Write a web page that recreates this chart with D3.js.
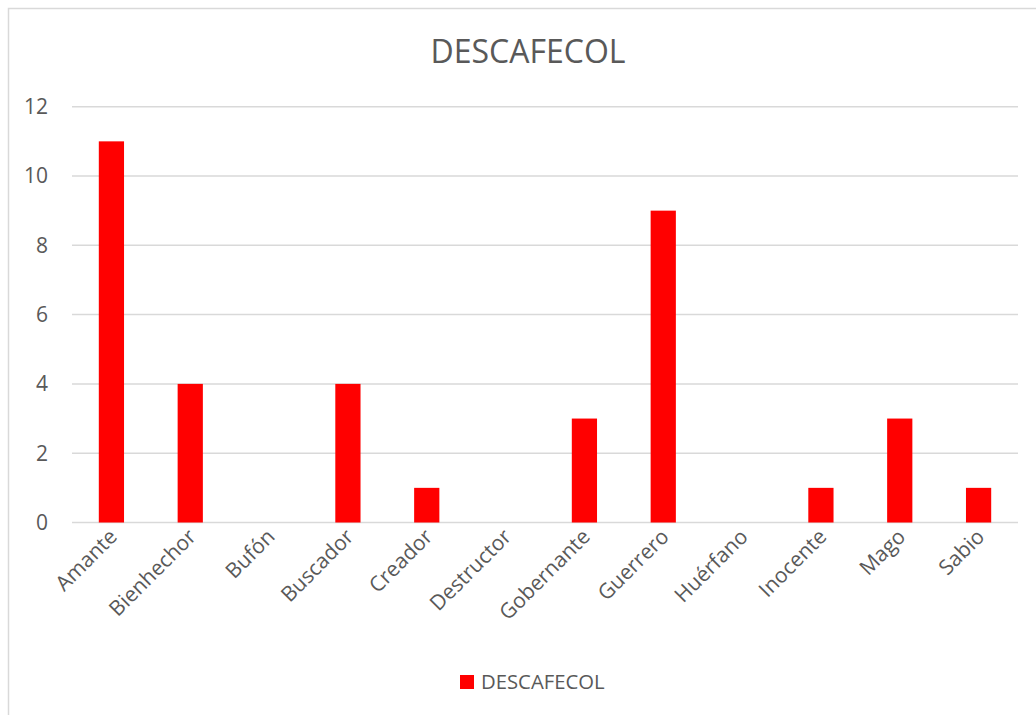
<!DOCTYPE html>
<html>
<head>
<meta charset="utf-8">
<script src="https://cdn.jsdelivr.net/npm/d3@7"></script>
<style>
  body { margin: 0; background: #fff; }
  text { font-family: "Open Sans", sans-serif; fill: #595959; }
</style>
</head>
<body>
<div id="chart"></div>
<script>
var width = 1036
var height = 715

// data
const categories = ["Amante", "Bienhechor", "Bufón", "Buscador", "Creador", "Destructor",
    "Gobernante", "Guerrero", "Huérfano", "Inocente", "Mago", "Sabio"];
const values = [11, 4, 0, 4, 1, 0, 3, 9, 0, 1, 3, 1];
const yTicks = [0, 2, 4, 6, 8, 10, 12];
const seriesName = "DESCAFECOL";
const title = "DESCAFECOL";

var svg = d3.select("#chart")
    .append("svg")
    .attr("width", width)
    .attr("height", height)

// chart frame
svg.append("rect")
    .attr("x", 8.5).attr("y", 8.5)
    .attr("width", width + 20).attr("height", height + 20)
    .style("fill", "none")
    .style("stroke", "#d9d9d9")
    .style("stroke-width", 1.5)

var x = d3.scaleBand()
    .domain(categories)
    .range([72, 1018])
    .paddingInner(0.68)
    .paddingOuter(0.34)

var y = d3.scaleLinear()
    .domain([0, 12])
    .range([522.5, 106.7])

// gridlines
svg.append("g")
    .selectAll("line")
    .data(yTicks)
    .enter()
    .append("line")
        .attr("x1", 72).attr("x2", 1018)
        .attr("y1", d => y(d)).attr("y2", d => y(d))
        .style("stroke", "#d9d9d9")
        .style("stroke-width", 1.5)

// y labels
svg.append("g")
    .selectAll("text")
    .data(yTicks)
    .enter()
    .append("text")
        .attr("x", 48)
        .attr("y", d => y(d))
        .attr("dy", "0.35em")
        .style("text-anchor", "end")
        .style("font-size", "21px")
        .text(d => d)

// bars
svg.append("g")
    .selectAll("rect")
    .data(values)
    .enter()
    .append("rect")
        .attr("x", (d, i) => x(categories[i]))
        .attr("y", d => y(d))
        .attr("width", x.bandwidth())
        .attr("height", d => y(0) - y(d))
        .style("fill", "#ff0000")

// x labels, rotated
svg.append("g")
    .selectAll("text")
    .data(categories)
    .enter()
    .append("text")
        .attr("transform", d => "translate(" + (x(d) + x.bandwidth() / 2 + 7) + ",538) rotate(-45)")
        .style("text-anchor", "end")
        .style("font-size", "21px")
        .text(d => d)

// title
svg.append("text")
    .attr("x", 528)
    .attr("y", 63)
    .style("text-anchor", "middle")
    .style("font-size", "32px")
    .text(title)

// legend
svg.append("rect")
    .attr("x", 460).attr("y", 675)
    .attr("width", 14).attr("height", 14)
    .style("fill", "#ff0000")
svg.append("text")
    .attr("x", 481)
    .attr("y", 689)
    .style("font-size", "20.3px")
    .text(seriesName)
</script>
</body>
</html>
